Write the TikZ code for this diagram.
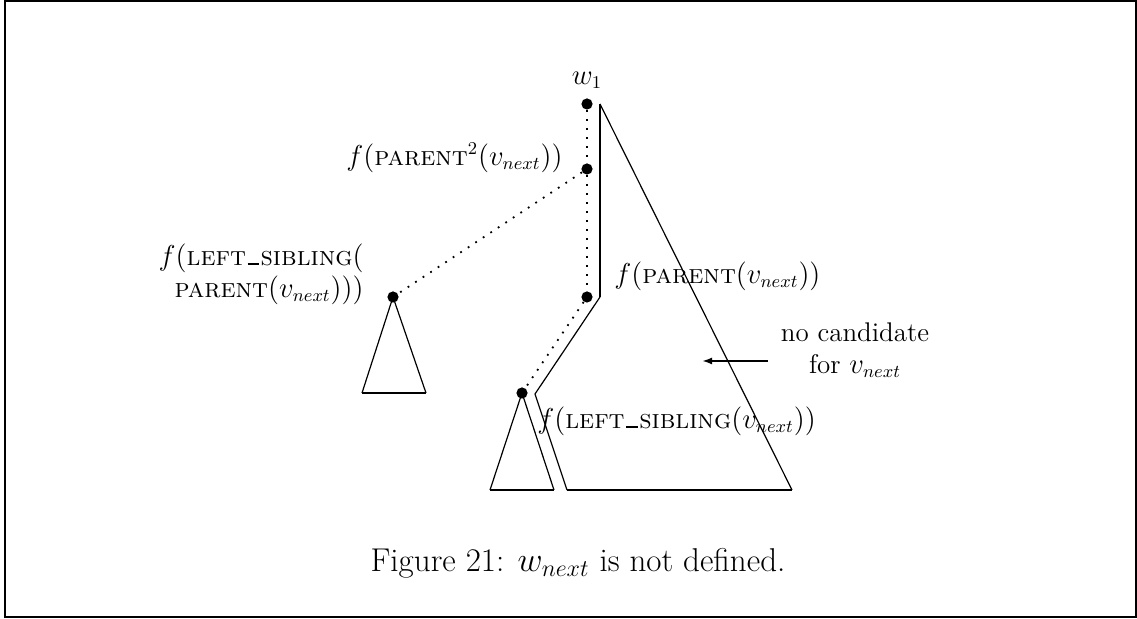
\documentclass[tikz,border=0pt]{standalone}
\usepackage{amsmath}
\usetikzlibrary{arrows.meta}
\newcommand{\lowbar}{\kern0.06em\rule{0.42em}{1.1pt}\kern0.06em}

\begin{document}
\begin{tikzpicture}[x=0.5pt,y=-0.5pt,
    treept/.style={circle, fill=black, inner sep=0pt, minimum size=5.6pt},
    outline/.style={draw=black, line width=0.6pt},
    heavy/.style={draw=black, line width=1.2pt},
    chain/.style={draw=black, line width=0.9pt, dash pattern=on 0.9pt off 3.6pt},
    lbl/.style={font=\fontsize{13.5}{16}\selectfont, inner sep=0pt},
    pointer/.style={draw=black, line width=1.1pt, -{Latex[length=5pt,width=3.5pt]}}]
  \useasboundingbox (0,0) rectangle (1137,619);
  \draw[line width=1pt] (4.5,1) rectangle (1135.5,617.5);
  % nodes on the path up to w_1
  \node[treept] (w1)      at (587,104) {};
  \node[treept] (par2)    at (587,169) {};
  \node[treept] (par1)    at (587,297) {};
  \node[treept] (lsib)    at (522,393) {};
  \node[treept] (lsibpar) at (393,297) {};
  \draw[chain] (w1) -- (par2) -- (par1);
  \draw[chain] (par2) -- (lsibpar);
  \draw[chain] (par1) -- (lsib);
  % subtree of left_sibling(parent(v_next))
  \coordinate (lpL) at (362,393);
  \coordinate (lpR) at (426,393);
  \draw[outline] (lpL) -- (lsibpar.center) -- (lpR);
  \draw[heavy] (lpL) -- (lpR);
  % subtree of left_sibling(v_next)
  \coordinate (lsL) at (490,490);
  \coordinate (lsR) at (554,490);
  \draw[outline] (lsL) -- (lsib.center) -- (lsR);
  \draw[heavy] (lsL) -- (lsR);
  % region without a candidate
  \coordinate (rTop) at (600,104);
  \coordinate (rMid) at (600,297);
  \coordinate (rKnee) at (535,394);
  \coordinate (rBL) at (567,490);
  \coordinate (rBR) at (792,490);
  \draw[heavy] (rTop) -- (rMid);
  \draw[outline] (rMid) -- (rKnee) -- (rBL);
  \draw[heavy] (rBL) -- (rBR);
  \draw[outline] (rBR) -- (rTop);
  \coordinate (arrtail) at (768,361);
  \coordinate (arrtip) at (702,361);
  \draw[pointer] (arrtail) -- (arrtip);
  % labels
  \node[lbl] (w1txt) at (587,80) {$w_1$};
  \node[lbl, anchor=east] (par2txt) at (563,158) {$f(\textsc{parent}^2(v_{next}))$};
  \node[lbl, anchor=west] (par1txt) at (614,276) {$f(\textsc{parent}(v_{next}))$};
  \node[lbl, anchor=west] (lsibtxt) at (537,421) {$f(\textsc{left\lowbar sibling}(v_{next}))$};
  \node[lbl, anchor=east, align=right] (lsibpartxt) at (364,274)
    {$f(\textsc{left\lowbar sibling}($\\$\textsc{parent}(v_{next})))$};
  \node[lbl, align=center] (nocand) at (855,350) {no candidate\\for $v_{next}$};
  \node[lbl, font=\fontsize{16.5}{19}\selectfont] (caption) at (578,563)
    {Figure 21: $w_{next}$ is not defined.};
\end{tikzpicture}
\end{document}
